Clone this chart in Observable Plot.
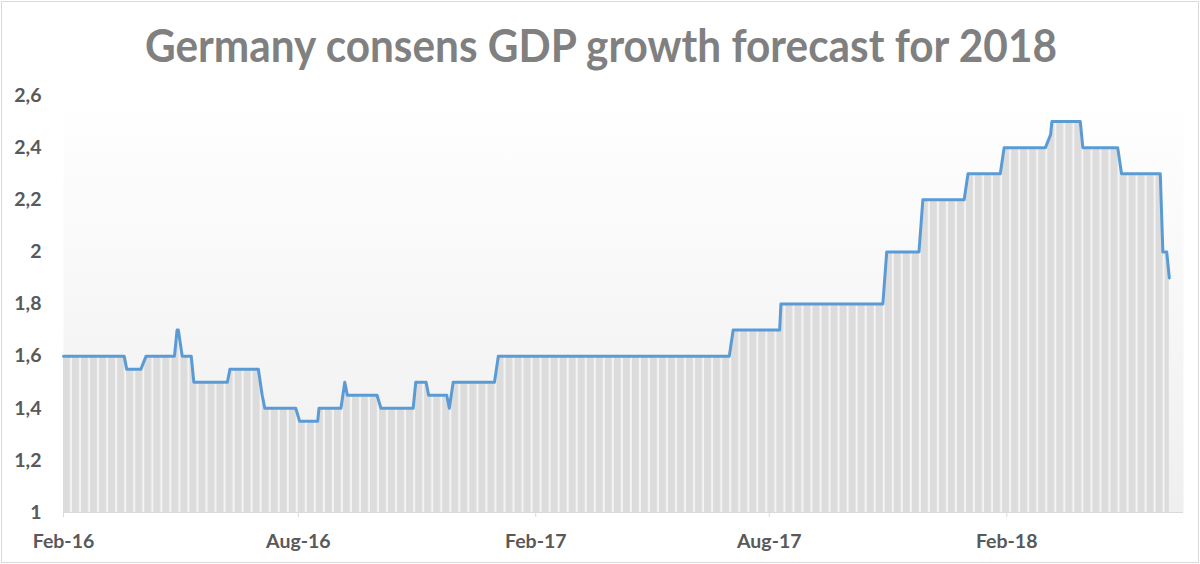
<!DOCTYPE html>
<html>
<head>
<meta charset="utf-8">
<script src="https://cdn.jsdelivr.net/npm/d3@7"></script>
<script src="https://cdn.jsdelivr.net/npm/@observablehq/plot@0.6"></script>
<style>
  html, body { margin: 0; padding: 0; background: #fff; }
  #wrap { position: relative; width: 1200px; height: 564px; overflow: hidden; background: #fff; }
  #wrap::after { content: ""; position: absolute; left: 1px; top: 1px; right: 1px; bottom: 1px; border: 1px solid #d9d9d9; pointer-events: none; }
  #title { position: absolute; left: 0; top: 0; }
  #chart { position: absolute; left: 0; top: 80px; }
</style>
</head>
<body>
<div id="wrap">
  <svg id="title" width="1200" height="80">
    <text x="601" y="62" text-anchor="middle" font-family="Lato" font-weight="700" font-size="46" fill="#808080" textLength="912" lengthAdjust="spacingAndGlyphs">Germany consens GDP growth forecast for 2018</text>
  </svg>
  <div id="chart"></div>
</div>
<script>
// Dates where the consensus forecast line changes
const obsDates = [
  "2016-02-01","2016-03-19","2016-03-21","2016-04-01","2016-04-05","2016-04-27","2016-04-29","2016-04-30",
  "2016-05-03","2016-05-10","2016-05-12","2016-06-07","2016-06-09","2016-07-01","2016-07-04","2016-07-06",
  "2016-07-30","2016-08-02","2016-08-16","2016-08-17","2016-09-03","2016-09-06","2016-09-08","2016-10-01",
  "2016-10-04","2016-10-29","2016-10-31","2016-11-08","2016-11-10","2016-11-24","2016-11-26","2016-11-29",
  "2016-12-31","2017-01-03","2017-07-01","2017-07-04","2017-08-09","2017-08-10","2017-10-28","2017-10-31",
  "2017-11-25","2017-11-28","2017-12-30","2018-01-02","2018-01-27","2018-01-30","2018-03-03","2018-03-07",
  "2018-03-08","2018-03-30","2018-04-01","2018-04-28","2018-05-01","2018-05-31","2018-06-02","2018-06-05",
  "2018-06-07"
];
const obsValues = [
  1.6, 1.6, 1.55, 1.55, 1.6, 1.6, 1.7, 1.7,
  1.6, 1.6, 1.5, 1.5, 1.55, 1.55, 1.45, 1.4,
  1.4, 1.35, 1.35, 1.4, 1.4, 1.5, 1.45, 1.45,
  1.4, 1.4, 1.5, 1.5, 1.45, 1.45, 1.4, 1.5,
  1.5, 1.6, 1.6, 1.7, 1.7, 1.8, 1.8, 2.0,
  2.0, 2.2, 2.2, 2.3, 2.3, 2.4, 2.4, 2.45,
  2.5, 2.5, 2.4, 2.4, 2.3, 2.3, 2.0, 2.0,
  1.9
];
const yTicks = [1, 1.2, 1.4, 1.6, 1.8, 2, 2.2, 2.4, 2.6];
const yTickLabels = ["1", "1,2", "1,4", "1,6", "1,8", "2", "2,2", "2,4", "2,6"];
const xTickDates = ["2016-02-01", "2016-08-01", "2017-02-01", "2017-08-01", "2018-02-01"];
const xTickLabels = ["Feb-16", "Aug-16", "Feb-17", "Aug-17", "Feb-18"];
const xDomain = ["2016-02-01", "2018-06-18"];

const data = obsDates.map((d, i) => ({date: new Date(d), value: obsValues[i]}));
const xTicks = xTickDates.map(d => new Date(d));

const chart = Plot.plot({
  width: 1200,
  height: 484,
  marginLeft: 63,
  marginRight: 17,
  marginTop: 15,
  marginBottom: 52,
  style: {fontFamily: "Lato", fontWeight: "700", fontSize: "19.5px", color: "#595959", background: "transparent"},
  x: {type: "utc", domain: xDomain.map(d => new Date(d)), label: null},
  y: {domain: [1, 2.6], label: null},
  marks: [
    Plot.frame({fill: "url(#bgGrad)"}),
    Plot.areaY(data, {x: "date", y1: 1, y2: "value", fill: "url(#stripes)"}),
    Plot.lineY(data, {x: "date", y: "value", stroke: "#5b9bd5", strokeWidth: 3, strokeLinejoin: "round"}),
    Plot.ruleY([1], {stroke: "#d9d9d9", strokeWidth: 1.2}),
    Plot.axisX(xTicks, {
      tickSize: 5, tickPadding: 17, stroke: "#d9d9d9", label: null,
      tickFormat: d => xTickLabels[xTicks.findIndex(t => +t === +d)]
    }),
    Plot.axisY(yTicks, {
      tickSize: 0, tickPadding: 22, label: null,
      tickFormat: d => yTickLabels[yTicks.indexOf(d)]
    })
  ]
});

const svg = d3.select(chart);
const defs = svg.insert("defs", ":first-child");
const pat = defs.append("pattern")
  .attr("id", "stripes").attr("patternUnits", "userSpaceOnUse")
  .attr("x", 63).attr("y", 0).attr("width", 9.03).attr("height", 10);
pat.append("rect").attr("width", 9.03).attr("height", 10).attr("fill", "#f4f4f4");
pat.append("rect").attr("width", 7).attr("height", 10).attr("fill", "#dcdcdc");
const grad = defs.append("linearGradient")
  .attr("id", "bgGrad").attr("x1", 0).attr("y1", 0).attr("x2", 0).attr("y2", 1);
grad.append("stop").attr("offset", "0").attr("stop-color", "#ffffff");
grad.append("stop").attr("offset", "1").attr("stop-color", "#efefef");

document.getElementById("chart").appendChild(chart);
</script>
</body>
</html>
